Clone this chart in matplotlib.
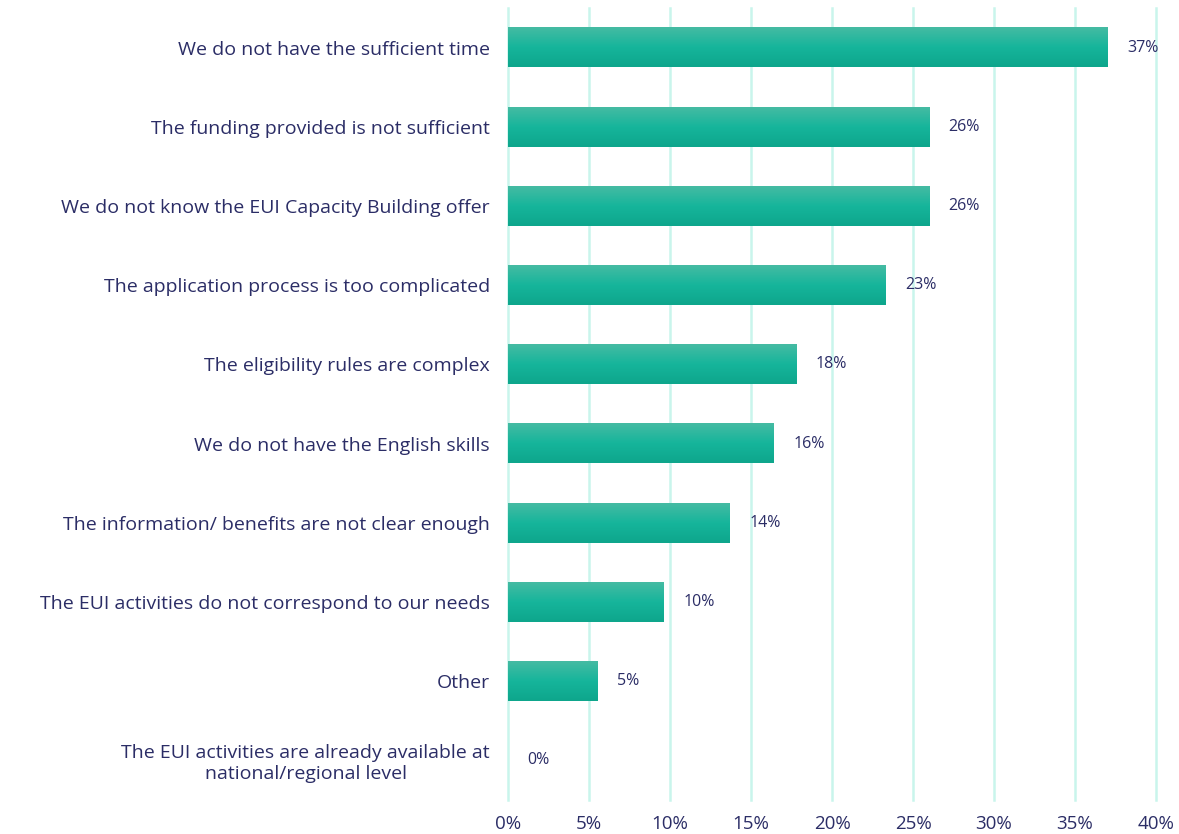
import numpy as np
import matplotlib.pyplot as plt
from matplotlib.colors import LinearSegmentedColormap

categories = [
    "We do not have the sufficient time",
    "The funding provided is not sufficient",
    "We do not know the EUI Capacity Building offer",
    "The application process is too complicated",
    "The eligibility rules are complex",
    "We do not have the English skills",
    "The information/ benefits are not clear enough",
    "The EUI activities do not correspond to our needs",
    "Other",
    "The EUI activities are already available at\nnational/regional level",
]
values = [37.0, 26.0, 26.0, 23.3, 17.8, 16.4, 13.7, 9.6, 5.5, 0.0]
value_labels = ["37%", "26%", "26%", "23%", "18%", "16%", "14%", "10%", "5%", "0%"]
x_ticks = [0, 5, 10, 15, 20, 25, 30, 35, 40]

text_color = "#2b2d66"
grid_color = "#c9f5ec"
# light at top, darker at bottom
grad = LinearSegmentedColormap.from_list("g", ["#45bba3", "#16b59b", "#0ea68c"])

plt.rcParams['font.family'] = ['Open Sans', 'DejaVu Sans']

fig = plt.figure(figsize=(11.79, 8.34), dpi=100)
ax = fig.add_axes([0.431, 0.0408, 0.5495, 0.9496])

ypos = np.arange(len(categories))
h = 0.5
bars = ax.barh(ypos, values, height=h, color="none", edgecolor="none", zorder=2)

gimg = np.linspace(0, 1, 100).reshape(-1, 1)
for b in bars:
    w = b.get_width()
    if w <= 0:
        continue
    y0 = b.get_y()
    ax.imshow(gimg, cmap=grad, aspect="auto", extent=[0, w, y0 + h, y0],
              origin="upper", zorder=2, interpolation="bilinear")

for y, v, lab in zip(ypos, values, value_labels):
    ax.annotate(lab, (v, y), xytext=(14, 0), textcoords="offset points",
                va="center", ha="left", fontsize=11.5, color=text_color)

ax.set_xlim(0, 40)
ax.set_ylim(len(categories) - 0.5, -0.5)
ax.set_xticks(x_ticks)
ax.set_xticklabels([f"{t}%" for t in x_ticks], fontsize=13.5, color=text_color)
ax.set_yticks(ypos)
ax.set_yticklabels(categories, fontsize=14, color=text_color)
ax.tick_params(axis="both", length=0)
ax.tick_params(axis="y", pad=13)
ax.tick_params(axis="x", pad=11)
for lab in ax.get_yticklabels():
    lab.set_multialignment("center")

ax.xaxis.grid(True, color=grid_color, lw=1.8, zorder=0)
ax.set_axisbelow(True)
for gl in ax.get_xgridlines():
    gl.set_clip_on(False)
for s in ax.spines.values():
    s.set_visible(False)

fig.savefig("out.png", dpi=100)
